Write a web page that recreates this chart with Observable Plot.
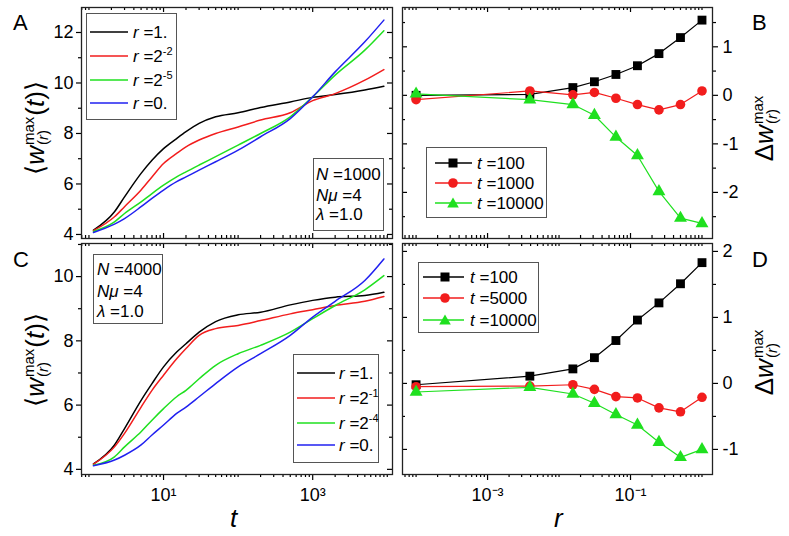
<!DOCTYPE html>
<html><head><meta charset="utf-8">
<script src="https://cdn.jsdelivr.net/npm/d3@7"></script>
<script src="https://cdn.jsdelivr.net/npm/@observablehq/plot@0.6"></script>
<style>
html,body{margin:0;padding:0;background:#fff;}
#fig{position:relative;width:789px;height:536px;overflow:hidden;font-family:"Liberation Sans",Arial,Helvetica,sans-serif;color:#000;background:#fff;}
.lbl{position:absolute;white-space:nowrap;line-height:1;}
.box{position:absolute;border:1px solid #555;background:#fff;box-sizing:border-box;}
.row{position:absolute;font-size:17px;line-height:1;white-space:nowrap;transform:translateY(-50%);}
.row sup{font-size:11px;vertical-align:0;position:relative;top:-7px;}
.ylab{position:absolute;transform:translate(-50%,-50%) rotate(-90deg);font-size:26px;white-space:nowrap;line-height:1;}
.ss{display:inline-flex;flex-direction:column;font-size:15px;line-height:0.95;vertical-align:10px;margin:0 1px;text-align:left;}
</style></head><body><div id="fig"></div>
<script>
// ---------- data ----------
const tValues = [1.15, 2.2, 3, 5, 7, 10, 15, 20, 30, 50, 100, 200, 500, 1000, 2000, 5000, 9000];
// Panel A (N=1000)
const panelA_r1   = [4.17, 4.90, 5.49, 6.42, 6.94, 7.40, 7.80, 8.07, 8.40, 8.66, 8.82, 9.03, 9.25, 9.43, 9.54, 9.72, 9.87];
const panelA_r2m2 = [4.15, 4.70, 5.10, 5.76, 6.28, 6.81, 7.21, 7.47, 7.74, 8.00, 8.26, 8.53, 8.82, 9.30, 9.58, 10.11, 10.53];
const panelA_r2m5 = [4.12, 4.50, 4.83, 5.29, 5.62, 5.95, 6.28, 6.48, 6.75, 7.08, 7.54, 8.00, 8.66, 9.45, 10.31, 11.30, 12.07];
const panelA_r0   = [4.08, 4.41, 4.63, 5.10, 5.43, 5.76, 6.09, 6.28, 6.55, 6.88, 7.34, 7.87, 8.59, 9.45, 10.44, 11.63, 12.49];
// Panel C (N=4000)
const panelC_r1   = [4.17, 4.76, 5.27, 6.15, 6.67, 7.19, 7.65, 7.91, 8.27, 8.60, 8.81, 8.89, 9.12, 9.26, 9.36, 9.41, 9.51];
const panelC_r2m1 = [4.16, 4.70, 5.12, 5.94, 6.46, 6.93, 7.44, 7.76, 8.17, 8.38, 8.48, 8.63, 8.84, 8.97, 9.10, 9.23, 9.38];
const panelC_r2m4 = [4.13, 4.39, 4.70, 5.17, 5.53, 5.89, 6.26, 6.46, 6.82, 7.24, 7.60, 7.86, 8.27, 8.69, 9.10, 9.59, 10.03];
const panelC_r0   = [4.11, 4.29, 4.44, 4.76, 5.07, 5.38, 5.74, 5.94, 6.26, 6.67, 7.19, 7.60, 8.17, 8.74, 9.23, 9.88, 10.55];
// Panels B, D : r values (r = 0 drawn at 1e-4)
const rValues = [0.0001, 0.00390625, 0.015625, 0.03125, 0.0625, 0.125, 0.25, 0.5, 1];
const panelB_t100   = [0.00, 0.02, 0.16, 0.28, 0.43, 0.61, 0.86, 1.19, 1.55];
const panelB_t1000  = [-0.09, 0.09, 0.01, 0.06, -0.06, -0.19, -0.30, -0.19, 0.09];
const panelB_t10000 = [0.03, -0.09, -0.19, -0.41, -0.86, -1.24, -1.98, -2.53, -2.64];
const panelD_t100   = [-0.02, 0.11, 0.22, 0.39, 0.65, 0.96, 1.22, 1.51, 1.83];
const panelD_t5000  = [-0.05, -0.04, -0.02, -0.09, -0.20, -0.22, -0.37, -0.43, -0.21];
const panelD_t10000 = [-0.13, -0.06, -0.16, -0.30, -0.47, -0.63, -0.89, -1.12, -1.00];
// tick labels
const tTickValues = [10, 1000];
const tTickLabels = ["10\u00b9", "10\u00b3"];
const rTickValues = [0.001, 0.1];
const rTickLabels = ["10\u207b\u00b3", "10\u207b\u00b9"];

const BLACK = "#000000", RED = "#f21d1d", GREEN = "#1fe01f", BLUE = "#2020f0";
const FONT = '"Liberation Sans", Arial, Helvetica, sans-serif';
const fig = document.getElementById("fig");

function logMinor(lo, hi, exclude) {
  const out = [];
  for (let e = -6; e <= 5; e++) for (let k = 1; k < 10; k++) {
    const v = +(k * Math.pow(10, e)).toPrecision(6);
    if (v >= lo && v <= hi && !exclude.some(x => Math.abs(x - v) / x < 1e-6)) out.push(v);
  }
  return out;
}

function makePanel(cfg) {
  const {x0, y0, w, h, ml, mr, mt, mb, xDomain, yDomain, yMajor, yMinor, xMajor, xLabels, xLabelText, yAnchor, marks} = cfg;
  const fw = w - ml - mr, fh = h - mt - mb;
  const xMinor = logMinor(xDomain[0], xDomain[1], xMajor);
  const yMin = yMinor.filter(v => v >= yDomain[0] && v <= yDomain[1]);
  const mirrorInset = yAnchor === "left" ? "insetLeft" : "insetRight";
  const axes = [
    Plot.axisY({anchor: yAnchor, ticks: yMajor, tickSize: 5, tickPadding: yAnchor === "left" ? 3 : 5, tickFormat: d => String(d), fontSize: 18, label: null, strokeWidth: 1.2}),
    Plot.axisY({anchor: yAnchor, ticks: yMin, tickSize: 3, tickFormat: () => "", label: null, strokeWidth: 1.2}),
    Plot.tickY(yMajor, {y: d => d, [mirrorInset]: fw - 5, strokeWidth: 1.2}),
    Plot.tickY(yMin, {y: d => d, [mirrorInset]: fw - 3, strokeWidth: 1.2}),
    Plot.tickX(xMajor, {x: d => d, insetBottom: fh - 5, strokeWidth: 1.2}),
    Plot.tickX(xMinor, {x: d => d, insetBottom: fh - 3, strokeWidth: 1.2})
  ];
  if (xLabels) {
    axes.push(Plot.axisX({anchor: "bottom", ticks: xMajor, tickSize: 6, tickPadding: 8, fontSize: 18, label: null, strokeWidth: 1.2,
      tickFormat: d => xLabelText[xMajor.indexOf(d)]}));
    axes.push(Plot.axisX({anchor: "bottom", ticks: xMinor, tickSize: 3, tickFormat: () => "", label: null, strokeWidth: 1.2}));
  } else {
    axes.push(Plot.tickX(xMajor, {x: d => d, insetTop: fh - 5, strokeWidth: 1.2}));
    axes.push(Plot.tickX(xMinor, {x: d => d, insetTop: fh - 3, strokeWidth: 1.2}));
  }
  const xScale = {type: "log", domain: xDomain, label: null};
  if (!xLabels) xScale.axis = null;
  const svg = Plot.plot({
    width: w, height: h, marginLeft: ml, marginRight: mr, marginTop: mt, marginBottom: mb,
    x: xScale,
    y: {domain: yDomain, label: null},
    style: {fontFamily: FONT, fontSize: "18px", background: "none", color: "#000", overflow: "visible"},
    marks: [...marks, ...axes, Plot.frame({stroke: "#222", strokeWidth: 1.3})]
  });
  svg.style.position = "absolute";
  svg.style.left = x0 + "px";
  svg.style.top = y0 + "px";
  fig.appendChild(svg);
}

function curves(series) {
  return series.map(s => Plot.line(tValues.map((t, i) => ({t, w: s.vals[i]})),
    {x: "t", y: "w", stroke: s.color, strokeWidth: 1.5, curve: "monotone-x"}));
}
function markerSeries(series) {
  const out = [];
  for (const s of series) {
    const rows = rValues.map((r, i) => ({r, d: s.vals[i]}));
    out.push(Plot.line(rows, {x: "r", y: "d", stroke: s.color, strokeWidth: 1.2}));
    out.push(Plot.dot(rows, {x: "r", y: "d", symbol: s.symbol, r: s.size, fill: s.color, stroke: "none"}));
  }
  return out;
}

const tDomain = [Math.pow(10, -0.10), Math.pow(10, 4.07)];
const rDomain = [Math.pow(10, -4.19), Math.pow(10, 0.147)];

// A
makePanel({x0: 0, y0: 0, w: 400, h: 240, ml: 81, mr: 8, mt: 7, mb: 2,
  xDomain: tDomain, yDomain: [3.84, 12.99], yMajor: [4, 6, 8, 10, 12], yMinor: [5, 7, 9, 11],
  xMajor: tTickValues, xLabels: false, yAnchor: "left",
  marks: curves([{vals: panelA_r1, color: BLACK}, {vals: panelA_r2m2, color: RED}, {vals: panelA_r2m5, color: GREEN}, {vals: panelA_r0, color: BLUE}])});
// B
makePanel({x0: 395, y0: 0, w: 394, h: 240, ml: 7, mr: 77, mt: 7, mb: 2,
  xDomain: rDomain, yDomain: [-2.95, 1.81], yMajor: [-2, -1, 0, 1], yMinor: [-2.5, -1.5, -0.5, 0.5, 1.5],
  xMajor: rTickValues, xLabels: false, yAnchor: "right",
  marks: markerSeries([
    {vals: panelB_t100, color: BLACK, symbol: "square", size: 5.0},
    {vals: panelB_t1000, color: RED, symbol: "circle", size: 4.8},
    {vals: panelB_t10000, color: GREEN, symbol: "triangle", size: 4.8}])});
// C
makePanel({x0: 0, y0: 236, w: 400, h: 300, ml: 81, mr: 8, mt: 7, mb: 62,
  xDomain: tDomain, yDomain: [3.84, 11.03], yMajor: [4, 6, 8, 10], yMinor: [5, 7, 9, 11],
  xMajor: tTickValues, xLabels: true, xLabelText: tTickLabels, yAnchor: "left",
  marks: curves([{vals: panelC_r1, color: BLACK}, {vals: panelC_r2m1, color: RED}, {vals: panelC_r2m4, color: GREEN}, {vals: panelC_r0, color: BLUE}])});
// D
makePanel({x0: 395, y0: 236, w: 394, h: 300, ml: 7, mr: 77, mt: 7, mb: 62,
  xDomain: rDomain, yDomain: [-1.38, 2.12], yMajor: [-1, 0, 1, 2], yMinor: [-0.5, 0.5, 1.5],
  xMajor: rTickValues, xLabels: true, xLabelText: rTickLabels, yAnchor: "right",
  marks: markerSeries([
    {vals: panelD_t100, color: BLACK, symbol: "square", size: 5.0},
    {vals: panelD_t5000, color: RED, symbol: "circle", size: 4.8},
    {vals: panelD_t10000, color: GREEN, symbol: "triangle", size: 4.8}])});

// ---------- legends & annotations ----------
function addBox(l, t, w, h) {
  const b = document.createElement("div");
  b.className = "box";
  Object.assign(b.style, {left: l + "px", top: t + "px", width: w + "px", height: h + "px"});
  fig.appendChild(b);
}
function addRow(l, y, html, size) {
  const d = document.createElement("div");
  d.className = "row";
  d.style.left = l + "px"; d.style.top = y + "px";
  if (size) d.style.fontSize = size + "px";
  d.innerHTML = html;
  fig.appendChild(d);
}
function addLabel(l, t, html, size, extra) {
  const d = document.createElement("div");
  d.className = "lbl";
  d.style.left = l + "px"; d.style.top = t + "px"; d.style.fontSize = size + "px";
  if (extra) Object.assign(d.style, extra);
  d.innerHTML = html;
  fig.appendChild(d);
}

addBox(86, 13, 91, 107);
addBox(313, 158, 71, 73);
addBox(293, 354, 86, 109);
addBox(93, 254, 70, 70);
addBox(426, 147, 121, 71);
addBox(418, 262, 121, 71);

const overlay = d3.create("svg").attr("width", 789).attr("height", 536)
  .style("position", "absolute").style("left", "0px").style("top", "0px").style("pointer-events", "none");
function legLine(x1, x2, y, color) {
  overlay.append("line").attr("x1", x1).attr("x2", x2).attr("y1", y).attr("y2", y).attr("stroke", color).attr("stroke-width", 1.5);
}
function glyph(kind, cx, cy, color) {
  if (kind === "square") overlay.append("rect").attr("x", cx - 4.5).attr("y", cy - 4.5).attr("width", 9).attr("height", 9).attr("fill", color);
  else if (kind === "circle") overlay.append("circle").attr("cx", cx).attr("cy", cy).attr("r", 4.8).attr("fill", color);
  else overlay.append("polygon").attr("points", `${cx},${cy - 5.5} ${cx + 5.8},${cy + 4.5} ${cx - 5.8},${cy + 4.5}`).attr("fill", color);
}
// legend A
const legA = [[32, BLACK], [56, RED], [80, GREEN], [103, BLUE]];
legA.forEach(([y, c]) => legLine(90, 128, y, c));
// legend C
const legC = [[373, BLACK], [398, RED], [423, GREEN], [445, BLUE]];
legC.forEach(([y, c]) => legLine(297, 335, y, c));
// legend B
[[163, BLACK, "square"], [183, RED, "circle"], [203, GREEN, "triangle"]].forEach(([y, c, k]) => { legLine(435, 472, y, c); glyph(k, 453, y, c); });
// legend D
[[277, BLACK, "square"], [298, RED, "circle"], [320, GREEN, "triangle"]].forEach(([y, c, k]) => { legLine(423, 464, y, c); glyph(k, 445, y, c); });
fig.appendChild(overlay.node());

addRow(133, 32, "<i>r</i> =1.");
addRow(133, 56, "<i>r</i> =2<sup>-2</sup>");
addRow(133, 80, "<i>r</i> =2<sup>-5</sup>");
addRow(133, 103, "<i>r</i> =0.");

addRow(339, 373, "<i>r</i> =1.");
addRow(339, 398, "<i>r</i> =2<sup>-1</sup>");
addRow(339, 423, "<i>r</i> =2<sup>-4</sup>");
addRow(339, 445, "<i>r</i> =0.");

addRow(316, 174, "<i>N</i> =1000");
addRow(316, 195, "<i>N\u03bc</i> =4");
addRow(316, 214, "<i>\u03bb</i> =1.0");

addRow(97, 269, "<i>N</i> =4000");
addRow(97, 291, "<i>N\u03bc</i> =4");
addRow(97, 311, "<i>\u03bb</i> =1.0");

addRow(477, 163, "<i>t</i> =100");
addRow(477, 183, "<i>t</i> =1000");
addRow(477, 203, "<i>t</i> =10000");

addRow(470, 277, "<i>t</i> =100");
addRow(470, 298, "<i>t</i> =5000");
addRow(470, 320, "<i>t</i> =10000");

// panel letters
addLabel(13, 12, "A", 22);
addLabel(752, 12, "B", 22);
addLabel(13, 249, "C", 22);
addLabel(752, 249, "D", 22);

// axis titles
addLabel(230, 505, "<i>t</i>", 26);
addLabel(554, 505, "<i>r</i>", 26);

const yLabHTML = "\u27e8<i>w</i><span class='ss'><span>max</span><span>(<i>r</i>)</span></span>(<i>t</i>)\u27e9";
const dLabHTML = "\u0394<i>w</i><span class='ss'><span>max</span><span>(<i>r</i>)</span></span>";
function addYLab(cx, cy, html) {
  const d = document.createElement("div");
  d.className = "ylab";
  d.style.left = cx + "px"; d.style.top = cy + "px";
  d.innerHTML = html;
  fig.appendChild(d);
}
addYLab(36, 128, yLabHTML);
addYLab(36, 360, yLabHTML);
addYLab(765, 128, dLabHTML);
addYLab(765, 362, dLabHTML);
</script></body></html>
